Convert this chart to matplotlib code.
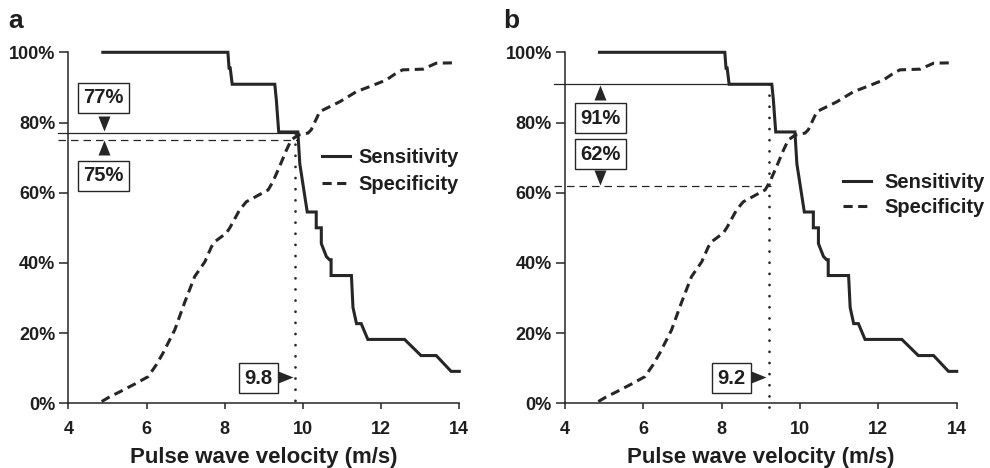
import matplotlib
matplotlib.use("Agg")
import matplotlib.pyplot as plt
from matplotlib.ticker import FuncFormatter

plt.rcParams['font.family'] = ['Liberation Sans', 'DejaVu Sans']
plt.rcParams['font.weight'] = 'bold'

# ---- data ----
sens_x = [4.88, 8.08, 8.11, 8.14, 8.19, 9.28, 9.32, 9.35, 9.38, 9.87, 9.92, 10.11,
          10.34, 10.34, 10.47, 10.47, 10.60, 10.68, 10.72, 10.72, 11.24, 11.28,
          11.37, 11.49, 11.66, 12.60, 13.02, 13.41, 13.79, 14.0]
sens_y = [100, 100, 95.5, 95.5, 90.9, 90.9, 86.4, 81.8, 77.3, 77.3, 68.2, 54.5,
          54.5, 50.0, 50.0, 45.5, 41.8, 40.9, 40.9, 36.4, 36.4, 27.3,
          22.7, 22.7, 18.2, 18.2, 13.6, 13.6, 9.1, 9.1]

spec_x = [4.85, 5.05, 5.32, 5.70, 6.04, 6.25, 6.42, 6.72, 6.98, 7.23, 7.49, 7.66,
          7.74, 8.04, 8.13, 8.38, 8.55, 9.11, 9.23, 9.40, 9.58, 9.70, 9.87, 10.13,
          10.21, 10.43, 10.94, 11.37, 11.70, 12.13, 12.38, 12.55, 13.07, 13.41, 13.87]
spec_y = [0.5, 1.8, 3.3, 5.5, 7.6, 11.0, 14.3, 20.9, 28.9, 36.1, 40.3, 44.6,
          46.0, 48.5, 50.0, 55.1, 57.4, 60.8, 63.1, 67.4, 72.2, 75.0, 76.4, 77.0,
          77.9, 83.1, 85.9, 88.8, 90.2, 92.1, 94.0, 95.0, 95.2, 96.9, 97.0]

panel_labels = ['a', 'b']
cutoffs = [9.8, 9.2]
sens_at_cutoff = [77, 91]
spec_at_cutoff = [75, 62]
x_ticks = [4, 6, 8, 10, 12, 14]
y_ticks = [0, 20, 40, 60, 80, 100]
x_label = 'Pulse wave velocity (m/s)'
legend_labels = ['Sensitivity', 'Specificity']

# ---- styling ----
C = '#262626'
TXT = '#1e1e1e'
W, H = 990, 468
fig = plt.figure(figsize=(W / 100, H / 100), dpi=100)

axes_px = [(68.4, 459.3), (565.0, 956.7)]
y_top_px, y_bot_px = 52.3, 403.3


def tri(ax, x, y, direction, w=6, h=15):
    # vertices in pixels, tip at origin
    if direction == 'down':
        v = [(-w, h), (w, h), (0, 0), (-w, h)]
    elif direction == 'up':
        v = [(-w, -h), (w, -h), (0, 0), (-w, -h)]
    else:  # right
        v = [(-h, -w), (-h, w), (0, 0), (-h, -w)]
    ms = 2 * max(w, h) * 0.72
    ax.plot([x], [y], marker=v, markersize=ms, color=C, mew=0,
            linestyle='none', clip_on=False, zorder=6)


boxkw = dict(boxstyle='square,pad=0.27', fc='white', ec=C, lw=1.0)
fs_box = 14.5

for i in range(2):
    l, r = axes_px[i]
    ax = fig.add_axes([l / W, (H - y_bot_px) / H, (r - l) / W, (y_bot_px - y_top_px) / H])
    ax.set_xlim(4, 14)
    ax.set_ylim(0, 100)
    for s in ['top', 'right']:
        ax.spines[s].set_visible(False)
    for s in ['left', 'bottom']:
        ax.spines[s].set_linewidth(1.1)
        ax.spines[s].set_color(C)
    ax.set_xticks(x_ticks)
    ax.set_yticks(y_ticks)
    ax.yaxis.set_major_formatter(FuncFormatter(lambda v, p: f'{v:.0f}%'))
    ax.tick_params(axis='y', direction='out', length=6.5, width=1.1, color=C,
                   labelsize=13, pad=3, labelcolor=TXT)
    ax.tick_params(axis='x', direction='out', length=4.5, width=1.1, color=C,
                   labelsize=13, pad=8, labelcolor=TXT)
    ax.set_xlabel(x_label, fontsize=16, fontweight='bold', color=TXT, labelpad=7)
    ax.patch.set_alpha(0)

    hs, = ax.plot(sens_x, sens_y, color=C, lw=2.2, clip_on=False,
                  solid_joinstyle='miter', zorder=4, label=legend_labels[0])
    hp, = ax.plot(spec_x, spec_y, color=C, lw=2.2, clip_on=False,
                  dashes=(3, 1.8), zorder=4, label=legend_labels[1])

    cx = cutoffs[i]
    sv = sens_at_cutoff[i]
    pv = spec_at_cutoff[i]
    # reference lines
    ax.plot([3.73, cx + 0.05], [sv, sv], color=C, lw=0.9, clip_on=False, zorder=3)
    ax.plot([3.73, cx + 0.05], [pv, pv], color=C, lw=0.9, clip_on=False,
            dashes=(6, 4), zorder=3)
    ax.plot([cx, cx], [max(sv, pv), -2], color=C, lw=2.0, clip_on=False,
            linestyle=(0, (0.01, 4)), dash_capstyle='round', zorder=3)

    # value boxes
    if i == 0:
        ax.text(4.9, sv + 10, f'{sv}%', ha='center', va='center', fontsize=fs_box,
                color=TXT, bbox=boxkw, zorder=7)
        tri(ax, 4.9, sv + 0.6, 'down')
        ax.text(4.9, pv - 10.2, f'{pv}%', ha='center', va='center', fontsize=fs_box,
                color=TXT, bbox=boxkw, zorder=7)
        tri(ax, 4.9, pv, 'up')
        leg_pos = (0.648, 0.662)
        htp = 0.4
    else:
        ax.text(4.9, sv - 9.8, f'{sv}%', ha='center', va='center', fontsize=fs_box,
                color=TXT, bbox=boxkw, zorder=7)
        tri(ax, 4.9, sv - 0.3, 'up')
        ax.text(4.9, pv + 9.0, f'{pv}%', ha='center', va='center', fontsize=fs_box,
                color=TXT, bbox=boxkw, zorder=7)
        tri(ax, 4.9, pv + 0.3, 'down')
        leg_pos = (0.7105, 0.593)
        htp = 0.63
    ax.text(cx - 0.945, 7.2, f'{cx}', ha='center', va='center', fontsize=fs_box,
            color=TXT, bbox=boxkw, zorder=7)
    tri(ax, cx - 0.06, 7.5, 'right')

    leg = ax.legend(handles=[hs, hp], loc='center left', bbox_to_anchor=leg_pos,
                    frameon=False, fontsize=14.5, handlelength=1.4,
                    handletextpad=htp, labelspacing=0.38 if i == 0 else 0.3,
                    borderpad=0, borderaxespad=0)
    for t in leg.get_texts():
        t.set_color(TXT)
        t.set_fontweight('bold')

    fig.text((8 if i == 0 else 503) / W, 1 - 28 / H, panel_labels[i],
             fontsize=19, fontweight='bold', color=TXT, va='baseline', ha='left')

fig.savefig('out.png', dpi=100)
